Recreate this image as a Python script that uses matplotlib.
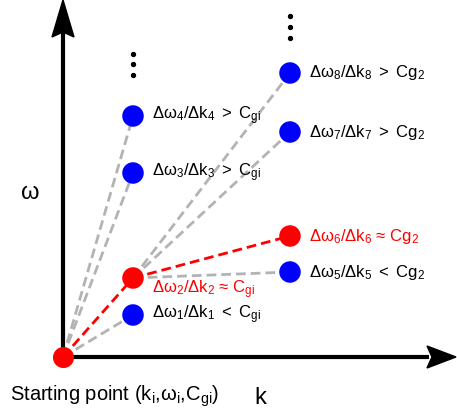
import matplotlib
matplotlib.use("Agg")
import matplotlib.pyplot as plt
from matplotlib.patches import Polygon

plt.rcParams['font.family'] = ['Liberation Sans', 'DejaVu Sans']
plt.rcParams['mathtext.fontset'] = 'custom'
plt.rcParams['mathtext.rm'] = 'Liberation Sans'
plt.rcParams['mathtext.it'] = 'Liberation Sans'
plt.rcParams['mathtext.default'] = 'regular'

# points (k, omega) relative to the starting point
k_start, w_start = 0, 0
k_pts = [70, 70, 70, 70, 227, 227, 227, 227]
w_pts = [42, 79, 184, 241, 85, 121, 225, 284]
pt_colors = ['blue', 'red', 'blue', 'blue', 'blue', 'red', 'blue', 'blue']
pt_labels = [r'$Δω_1/Δk_1\ {<}\ C_{gi}$',
             r'$Δω_2/Δk_2\ {≈}\ C_{gi}$',
             r'$Δω_3/Δk_3\ {>}\ C_{gi}$',
             r'$Δω_4/Δk_4\ {>}\ C_{gi}$',
             r'$Δω_5/Δk_5\ {<}\ Cg_2$',
             r'$Δω_6/Δk_6\ {≈}\ Cg_2$',
             r'$Δω_7/Δk_7\ {>}\ Cg_2$',
             r'$Δω_8/Δk_8\ {>}\ Cg_2$']
# which point each segment starts from (-1 = starting point)
parent = [-1, -1, -1, -1, 1, 1, 1, 1]

fig = plt.figure(figsize=(4.57, 4.13), dpi=100)
ax = fig.add_axes([0, 0, 1, 1])
ax.set_xlim(-63, 394)
ax.set_ylim(-56, 357)
ax.axis('off')

# axes with arrows
ax.plot([0, 366], [0, 0], color='black', lw=3, solid_capstyle='butt', zorder=2)
ax.plot([0, 0], [0, 330], color='black', lw=3, solid_capstyle='butt', zorder=2)
ax.add_patch(Polygon([[393, 0], [364, 11], [369, 0], [364, -11]], closed=True, color='black', zorder=2))
ax.add_patch(Polygon([[0, 357], [-11, 320], [0, 325], [11, 320]], closed=True, color='black', zorder=2))

# dashed connections
for i in range(len(k_pts)):
    if parent[i] < 0:
        k0, w0 = k_start, w_start
    else:
        k0, w0 = k_pts[parent[i]], w_pts[parent[i]]
    col = 'red' if pt_colors[i] == 'red' else '#b3b3b3'
    ax.plot([k0, k_pts[i]], [w0, w_pts[i]], color=col, lw=2, dashes=(3.5, 1.8), zorder=3)

ax.scatter(k_pts, w_pts, s=240, c=pt_colors, zorder=5, linewidths=0)
ax.scatter([k_start], [w_start], s=230, c='red', zorder=5, linewidths=0)

for i in range(len(k_pts)):
    txt_col = 'red' if pt_colors[i] == 'red' else 'black'
    dw = -12 if i == 1 else 0
    ax.text(k_pts[i] + 19, w_pts[i] + dw, pt_labels[i], color=txt_col, fontsize=12, va='center', ha='left')

# vertical ellipses
ax.scatter([70, 70, 70], [303, 293, 282], s=8, c='black', zorder=5)
ax.scatter([227, 227, 227], [341, 330, 319], s=8, c='black', zorder=5)

ax.text(-33, 164, 'ω', fontsize=17, ha='center', va='center')
ax.text(197, -41, 'k', fontsize=17, ha='center', va='center')
ax.text(-53, -39, r'$Starting\ point\ (k_i{,}ω_i{,}C_{gi})$', fontsize=14.5, ha='left', va='center')

fig.savefig('out.png', dpi=100)
